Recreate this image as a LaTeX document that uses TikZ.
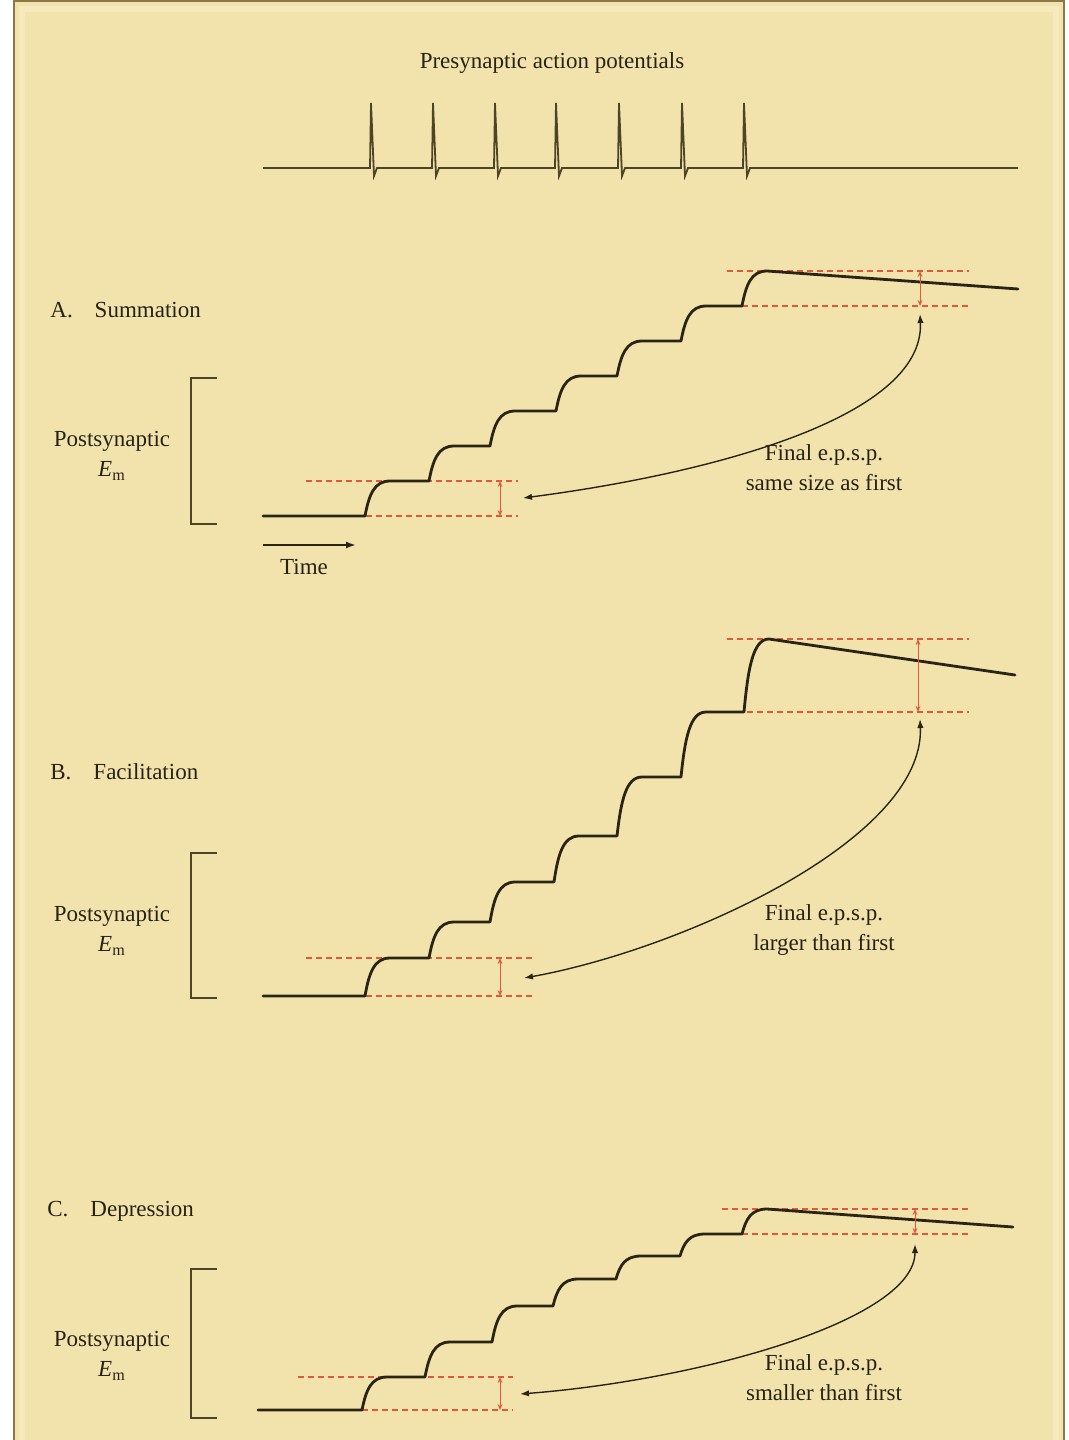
\documentclass[tikz,border=0pt]{standalone}
\usepackage{fontspec}
\setmainfont{Liberation Serif}
\usetikzlibrary{arrows.meta, positioning}

\definecolor{panelbg}{RGB}{242,227,172}
\definecolor{panelhi}{RGB}{247,233,190}
\definecolor{frameline}{RGB}{140,118,75}
\definecolor{inkcol}{RGB}{40,34,22}
\definecolor{tracecol}{RGB}{42,36,20}
\definecolor{spikecol}{RGB}{78,68,38}
\definecolor{levelred}{RGB}{228,88,58}

\begin{document}
\begin{tikzpicture}[
  x=0.5pt, y=-0.5pt,
  font=\fontsize{11.5}{15}\selectfont,
  txt/.style        = {text=inkcol, inner sep=1pt, align=center},
  trace/.style      = {line width=1.4pt, draw=tracecol, line join=round, line cap=round},
  spiketrace/.style = {line width=0.9pt, draw=spikecol},
  bracket/.style    = {line width=0.9pt, draw=spikecol},
  level/.style      = {line width=0.6pt, draw=levelred, dash pattern=on 3pt off 2pt},
  gauge/.style      = {line width=0.5pt, draw=levelred,
                       {Stealth[length=3pt,width=2.4pt]}-{Stealth[length=3pt,width=2.4pt]}},
  epsparrow/.style  = {line width=0.7pt, draw=tracecol,
                       {Latex[length=4.5pt,width=3.2pt]}-{Latex[length=4.5pt,width=3.2pt]}}
]

% ── Background and frame ──────────────────────────────────────────────────────
\useasboundingbox (0,0) rectangle (1069,1440);
\fill[white] (0,0) rectangle (1069,1440);
\fill[panelbg] (14,1) rectangle (1064,1440);
\draw[panelhi, line width=3pt] (22,1440) -- (22,9) -- (1056,9) -- (1056,1440);
\draw[frameline, line width=1.2pt] (14,1440) -- (14,1) -- (1064,1) -- (1064,1440);

% ── Presynaptic action potentials ─────────────────────────────────────────────
\node[txt] (title) at (552,63) {Presynaptic action potentials};
\draw[spiketrace] (263,168)
  foreach \s in {371,433,495,556,619,682,744}
  { -- ({\s-1},168) -- (\s,103) -- ({\s+3},176) -- ({\s+6},168) }
  -- (1018,168);

% ── A. Summation ──────────────────────────────────────────────────────────────
\node[txt, anchor=west] (sumLabel) at (48,310) {A.\hskip 11pt Summation};
\node[txt] (sumAxis) at (112,456) {Postsynaptic\\\textit{E}\textsubscript{m}};
\draw[bracket] (217,378) -- (191,378) -- (191,524) -- (217,524);

\draw[level] (306,481) -- (518,481);
\draw[level] (366,516) -- (518,516);
\draw[level] (727,271) -- (969,271);
\draw[level] (742,306) -- (969,306);

\draw[trace] (263,516)
  foreach \x/\a/\b in {365/516/481, 429/481/446, 490/446/411, 556/411/376,
                       617/376/341, 681/341/306, 742/306/271}
  { -- (\x,\a) .. controls ({\x+4},{\a-0.6*(\a-\b)}) and ({\x+9},\b) .. ({\x+25},\b) }
  -- (1018,289);

\coordinate (sumFirstLo) at (500,516);
\coordinate (sumFirstHi) at (500,481);
\coordinate (sumLastLo)  at (920,306);
\coordinate (sumLastHi)  at (920,271);
\draw[gauge] (sumFirstLo) -- (sumFirstHi);
\draw[gauge] (sumLastLo) -- (sumLastHi);

\coordinate (sumFirst) at (523,498);
\coordinate (sumLast)  at (920,314);
\draw[epsparrow] (sumFirst) .. controls (700,475) and (925,420) .. (sumLast);
\node[txt] (sumNote) at (824,468) {Final e.p.s.p.\\same size as first};

\coordinate (timeStart) at (263,545);
\coordinate (timeEnd)   at (356,545);
\draw[line width=0.9pt, draw=tracecol, -{Latex[length=5pt,width=3.5pt]}] (timeStart) -- (timeEnd);
\node[txt] (time) at (304,567) {Time};

% ── B. Facilitation ───────────────────────────────────────────────────────────
\node[txt, anchor=west] (facLabel) at (48,772) {B.\hskip 11pt Facilitation};
\node[txt] (facAxis) at (112,931) {Postsynaptic\\\textit{E}\textsubscript{m}};
\draw[bracket] (217,853) -- (191,853) -- (191,998) -- (217,998);

\draw[level] (306,958) -- (533,958);
\draw[level] (366,996) -- (533,996);
\draw[level] (727,639) -- (969,639);
\draw[level] (747,712) -- (969,712);

\draw[trace] (263,996)
  foreach \x/\a/\b in {365/996/958, 429/958/922, 490/922/882, 554/882/836,
                       617/836/777, 681/777/712, 744/712/639}
  { -- (\x,\a) .. controls ({\x+4},{\a-0.6*(\a-\b)}) and ({\x+9},\b) .. ({\x+25},\b) }
  -- (1015,675);

\coordinate (facFirstLo) at (500,996);
\coordinate (facFirstHi) at (500,958);
\coordinate (facLastLo)  at (918,712);
\coordinate (facLastHi)  at (918,639);
\draw[gauge] (facFirstLo) -- (facFirstHi);
\draw[gauge] (facLastLo) -- (facLastHi);

\coordinate (facFirst) at (524,978);
\coordinate (facLast)  at (920,719);
\draw[epsparrow] (facFirst) .. controls (680,950) and (925,840) .. (facLast);
\node[txt] (facNote) at (824,930) {Final e.p.s.p.\\larger than first};

% ── C. Depression ─────────────────────────────────────────────────────────────
\node[txt, anchor=west] (depLabel) at (45,1211) {C.\hskip 11pt Depression};
\node[txt] (depAxis) at (112,1356) {Postsynaptic\\\textit{E}\textsubscript{m}};
\draw[bracket] (217,1269) -- (191,1269) -- (191,1418) -- (217,1418);

\draw[level] (298,1377) -- (513,1377);
\draw[level] (362,1410) -- (513,1410);
\draw[level] (722,1209) -- (969,1209);
\draw[level] (742,1234) -- (969,1234);

\draw[trace] (258,1410)
  foreach \x/\a/\b in {362/1410/1377, 425/1377/1342, 492/1342/1306, 553/1306/1279,
                       616/1279/1256, 680/1256/1234, 742/1234/1209}
  { -- (\x,\a) .. controls ({\x+4},{\a-0.6*(\a-\b)}) and ({\x+9},\b) .. ({\x+25},\b) }
  -- (1013,1227);

\coordinate (depFirstLo) at (500,1410);
\coordinate (depFirstHi) at (500,1377);
\coordinate (depLastLo)  at (915,1234);
\coordinate (depLastHi)  at (915,1209);
\draw[gauge] (depFirstLo) -- (depFirstHi);
\draw[gauge] (depLastLo) -- (depLastHi);

\coordinate (depFirst) at (520,1394);
\coordinate (depLast)  at (915,1244);
\draw[epsparrow] (depFirst) .. controls (700,1380) and (915,1320) .. (depLast);
\node[txt] (depNote) at (824,1378) {Final e.p.s.p.\\smaller than first};

\end{tikzpicture}
\end{document}
